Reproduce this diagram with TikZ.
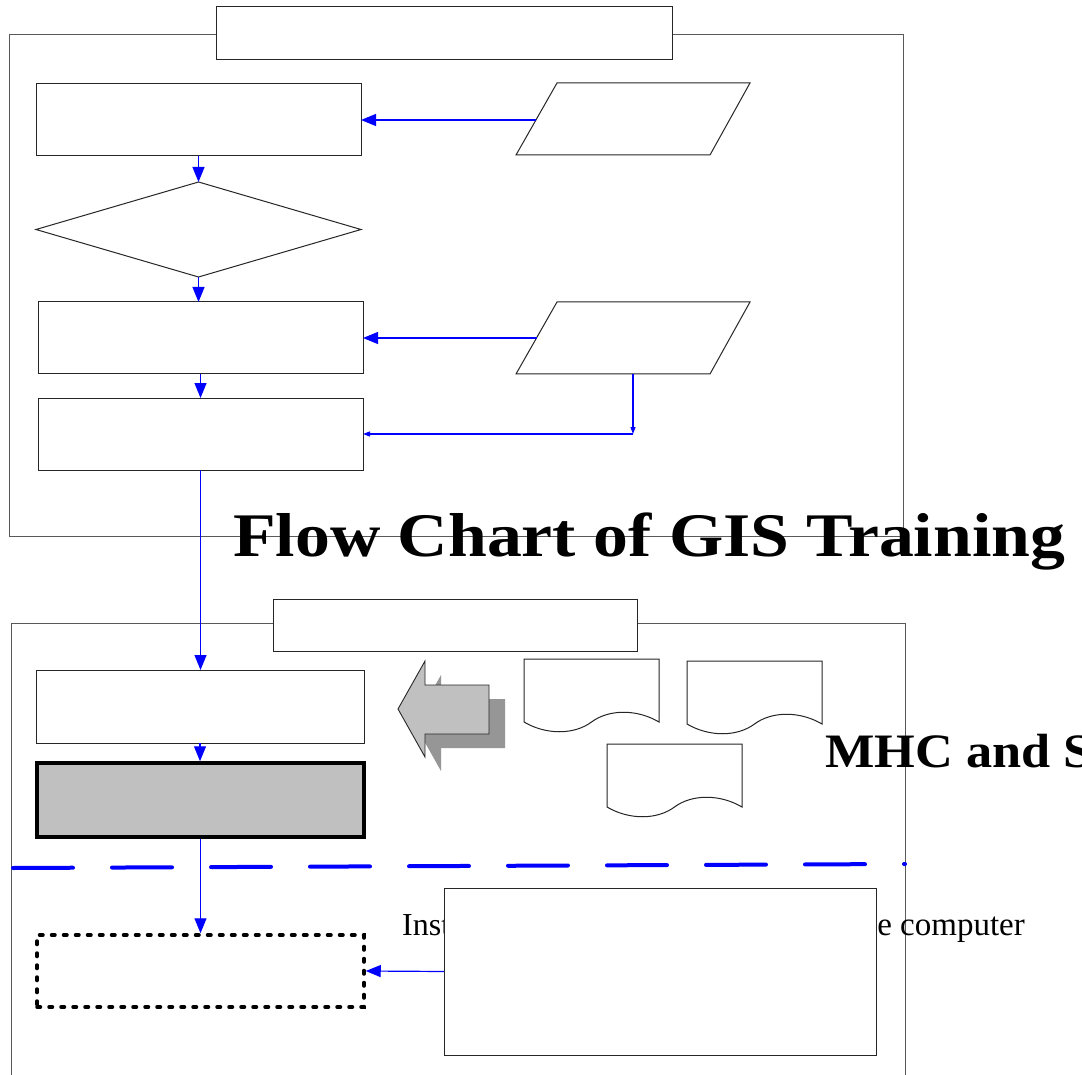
\documentclass[tikz,border=0pt]{standalone}
\usepackage{fontspec}
\setmainfont{Liberation Serif}
\usetikzlibrary{arrows.meta,shapes.geometric,calc}
\definecolor{shadowgray}{HTML}{969696}
\definecolor{lightgray2}{HTML}{C0C0C0}
\newcommand\mydocshape[3]{%
  \draw[docst] (#1,#2) -- ++(135,0) -- ++(0,63)
    .. controls ++(-22,-13) and ++(17.5,-13) .. ++(-67.5,0)
    .. controls ++(-17.5,13) and ++(22,13) .. ++(-67.5,0) -- cycle;
  \coordinate (#3) at ($(#1,#2)+(67.5,32)$);}
\begin{document}
\begin{tikzpicture}[x=1pt,y=-1pt,
  frame/.style={draw=black!65, line width=0.9pt},
  plainbox/.style={draw=black!85, line width=1pt, fill=white, inner sep=0pt, outer sep=0pt},
  docst/.style={draw=black!85, line width=1pt, fill=white},
  conn/.style={draw=blue, line width=1.2pt, -{Triangle[length=15pt,width=12pt]}},
  smallconn/.style={draw=blue, line width=1.1pt, -{Triangle[length=7pt,width=5pt]}}
]
\useasboundingbox (0,0) rectangle (1082,1075);
\clip (0,0) rectangle (1082,1075);
\fill[white] (0,0) rectangle (1082,1075);

% ---------- upper part ----------
\draw[frame] (9,34) rectangle (903,536);
\node[plainbox, minimum width=456, minimum height=53] (title1) at (444,33.5) {};

\node[plainbox, minimum width=325, minimum height=72] (b1) at (198.5,120) {};
\node[plainbox, shape=diamond, minimum width=325, minimum height=95] (d1) at (198.5,229.5) {};
\node[plainbox, minimum width=325, minimum height=72] (b2) at (200.5,338) {};
\node[plainbox, minimum width=325, minimum height=72] (b3) at (200.5,434) {};

\draw[docst] (516,155) -- (557,83) -- (750,83) -- (710,155) -- cycle;
\coordinate (p1w) at (536,120);
\draw[docst] (516,374) -- (557,302) -- (750,302) -- (710,374) -- cycle;
\coordinate (p2w) at (536.5,338);
\coordinate (p2s) at (633,374);
\coordinate (corner) at (633,434);

\draw[conn] (p1w) -- (b1.east);
\draw[conn] (b1.south) -- (d1.north);
\draw[conn] (d1.south) -- (d1.south |- b2.north);
\draw[conn] (b2.south) -- (b3.north);
\draw[conn] (p2w) -- (b2.east);
\draw[smallconn] (p2s) -- (corner);
\draw[smallconn] (corner) -- (b3.east);

% ---------- lower part ----------
\draw[frame] (11,1090) -- (11,623) -- (905,623) -- (905,1090);
\node[plainbox, minimum width=364, minimum height=52] (title2) at (455,625) {};

\node[plainbox, minimum width=328, minimum height=73] (b4) at (200,706.5) {};
\draw[conn] (b3.south) -- (b3.south |- b4.north);

% big arrow with shadow
\fill[shadowgray, shift={(16,14)}] (398,709) -- (425,661) -- (425,685) -- (489,685) -- (489,734) -- (425,734) -- (425,757) -- cycle;
\draw[draw=black!85, line width=0.9pt, fill=lightgray2] (398,709) -- (425,661) -- (425,685) -- (489,685) -- (489,734) -- (425,734) -- (425,757) -- cycle;

\mydocshape{524}{659}{doc1}
\mydocshape{687}{661}{doc2}
\mydocshape{607}{744}{doc3}

\node[anchor=base west, inner sep=0pt] (mhc) at (825,767)
  {\scalebox{1.09}[1]{\fontsize{48}{48}\selectfont\bfseries MHC and S}};

\draw[blue, line width=4pt, line cap=round, dash pattern=on 60pt off 39pt] (13,868) -- (905,864);

\node[draw=black, line width=3.5pt, fill=lightgray2, minimum width=327, minimum height=74, inner sep=0pt] (b5) at (200.5,800) {};
\draw[conn] (b4.south) -- (b4.south |- b5.north);

\node[draw=black, line width=3.5pt, line cap=round, dash pattern=on 3.5pt off 8.5pt, minimum width=327, minimum height=72, inner sep=0pt] (b6) at (200.5,971) {};
\draw[conn] (b5.south) -- (b5.south |- b6.north);

\node[anchor=base west, inner sep=0pt] (inst) at (402,935) {\fontsize{32}{32}\selectfont Inst};
\node[anchor=base east, inner sep=0pt] (comp) at (1025,935) {\fontsize{33}{33}\selectfont e computer};

\node[plainbox, minimum width=432, minimum height=167] (big) at (660,971.5) {};
\draw[conn] (big.west) -- (b6.east);

% title text
\node[anchor=base west, inner sep=0pt] (title) at (233,556)
  {\scalebox{1.125}[1]{\fontsize{62}{62}\selectfont\bfseries Flow Chart of GIS Training}};
\end{tikzpicture}
\end{document}
